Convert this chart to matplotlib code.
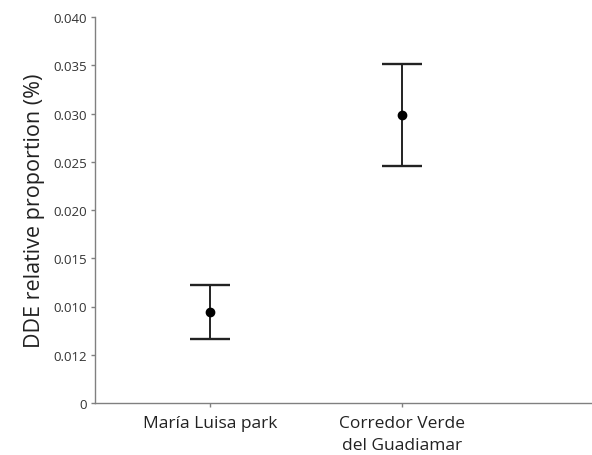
import matplotlib
matplotlib.use("Agg")
import matplotlib.pyplot as plt

categories = ["María Luisa park", "Corredor Verde\ndel Guadiamar"]
means = [0.00943, 0.02984]
upper = [0.01223, 0.03513]
lower = [0.00663, 0.02456]
ytick_values = [0, 0.005, 0.010, 0.015, 0.020, 0.025, 0.030, 0.035, 0.040]
ytick_labels = ["0", "0.012", "0.010", "0.015", "0.020", "0.025", "0.030", "0.035", "0.040"]

plt.rcParams['font.family'] = ['Open Sans', 'DejaVu Sans']

fig = plt.figure(figsize=(5.92, 4.56), dpi=100)
ax = fig.add_axes([95/592, 52/456, 496/592, 386/456])

x = [1, 2]
yerr = [[m - l for m, l in zip(means, lower)], [u - m for m, u in zip(means, upper)]]
ax.errorbar(x, means, yerr=yerr, fmt='o', color='black', ecolor='#222222',
            elinewidth=1.4, capsize=14.5, capthick=1.7, markersize=6)

ax.set_xlim(1 - 115/192, 1 + 381/192)
ax.set_ylim(0, 0.040)
ax.set_yticks(ytick_values)
ax.set_yticklabels(ytick_labels, fontsize=9.5, color='#333333')
ax.set_xticks(x)
ax.set_xticklabels(categories, fontsize=12.5, color='#222222', linespacing=1.45)
ax.set_ylabel("DDE relative proportion (%)", fontsize=15.5, color='#222222', labelpad=6)

for s in ['top', 'right']:
    ax.spines[s].set_visible(False)
for s in ['left', 'bottom']:
    ax.spines[s].set_color('#808080')
    ax.spines[s].set_linewidth(1.0)
ax.tick_params(axis='both', colors='#808080', length=3, width=1.0)
ax.tick_params(axis='y', labelcolor='#333333', pad=3)
ax.tick_params(axis='x', labelcolor='#222222', pad=6)

fig.savefig("out.png", dpi=100)
